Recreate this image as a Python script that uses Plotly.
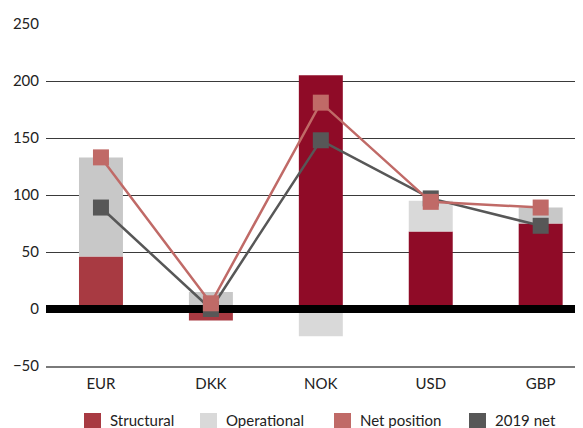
import plotly.graph_objects as go

categories = ["EUR", "DKK", "NOK", "USD", "GBP"]
structural = [46, -10, 205, 68, 75]
operational = [87, 15, -24, 27, 14]
net_position = [133, 5, 181, 94, 89]
net_2019 = [89, 0, 148, 97, 73]
y_ticks = [-50, 0, 50, 100, 150, 200, 250]

structural_colors = ["#a83a42", "#a83a42", "#8f0b27", "#8f0b27", "#8f0b27"]
operational_colors = ["#c8c8c8", "#c8c8c8", "#d9d9d9", "#d9d9d9", "#c8c8c8"]
legend_items = [("Structural", "#a83a42"), ("Operational", "#d9d9d9"),
                ("Net position", "#c06a67"), ("2019 net", "#575757")]

# page body has an 8px margin, so the figure is placed at (8, 8) in the window
OFF = 8
W, H = 583 - OFF, 428 - OFF
ML, MR, MT, MB = 46 - OFF, 0, 24 - OFF, 62
XR = [-0.5, 4.385]
x = list(range(len(categories)))

FONT = "Lato, 'Open Sans', sans-serif"

fig = go.Figure()
fig.add_trace(go.Bar(x=x, y=structural, name="Structural", width=0.4,
                     marker=dict(color=structural_colors, line=dict(width=0)),
                     showlegend=False))
fig.add_trace(go.Bar(x=x, y=operational, name="Operational", width=0.4,
                     marker=dict(color=operational_colors, line=dict(width=0)),
                     showlegend=False))
# thick zero line drawn above bars, below markers
fig.add_trace(go.Scatter(x=XR, y=[0, 0], mode="lines",
                         line=dict(color="#000000", width=8),
                         showlegend=False, hoverinfo="skip"))
fig.add_trace(go.Scatter(x=x, y=net_2019, name="2019 net", mode="lines+markers",
                         line=dict(color="#575757", width=2.5),
                         marker=dict(symbol="square", size=16, color="#575757",
                                     line=dict(width=0)),
                         showlegend=False))
fig.add_trace(go.Scatter(x=x, y=net_position, name="Net position", mode="lines+markers",
                         line=dict(color="#c06a67", width=2.5),
                         marker=dict(symbol="square", size=16, color="#c06a67",
                                     line=dict(width=0)),
                         showlegend=False))

pw = W - ML - MR
ph = H - MT - MB


def px_x(p):
    # window pixel -> paper coordinate
    return (p - OFF - ML) / pw


def px_y(p):
    return (H - MB - (p - OFF)) / ph


shapes = []
annotations = []
legend_x = [84, 200, 334, 469]
for (label, color), lx in zip(legend_items, legend_x):
    shapes.append(dict(type="rect", xref="paper", yref="paper",
                       x0=px_x(lx), x1=px_x(lx + 17), y0=px_y(430), y1=px_y(413),
                       fillcolor=color, line=dict(width=0), layer="above"))
    annotations.append(dict(text=label, xref="paper", yref="paper",
                            x=px_x(lx + 24), y=px_y(420), xanchor="left",
                            yanchor="middle", showarrow=False,
                            font=dict(family=FONT, size=15, color="#222222")))

fig.update_layout(
    width=W, height=H,
    margin=dict(l=ML, r=MR, t=MT, b=MB, pad=0),
    paper_bgcolor="white", plot_bgcolor="white",
    barmode="relative",
    showlegend=False,
    font=dict(family=FONT, size=15, color="#222222"),
    shapes=shapes, annotations=annotations,
    xaxis=dict(range=XR, tickmode="array", tickvals=x, ticktext=categories,
               showgrid=False, zeroline=False, showline=True,
               linecolor="#7a7a7a", linewidth=2, ticks="",
               tickfont=dict(family=FONT, size=15, color="#222222"),
               ticklabelstandoff=3),
    yaxis=dict(range=[-50, 250], tickmode="array", tickvals=y_ticks,
               showgrid=True, gridcolor="#3a3a3a", gridwidth=1,
               zeroline=False, showline=False, ticks="",
               tickfont=dict(family=FONT, size=15, color="#222222"),
               ticklabelstandoff=6),
)

fig.write_html("out.html")
